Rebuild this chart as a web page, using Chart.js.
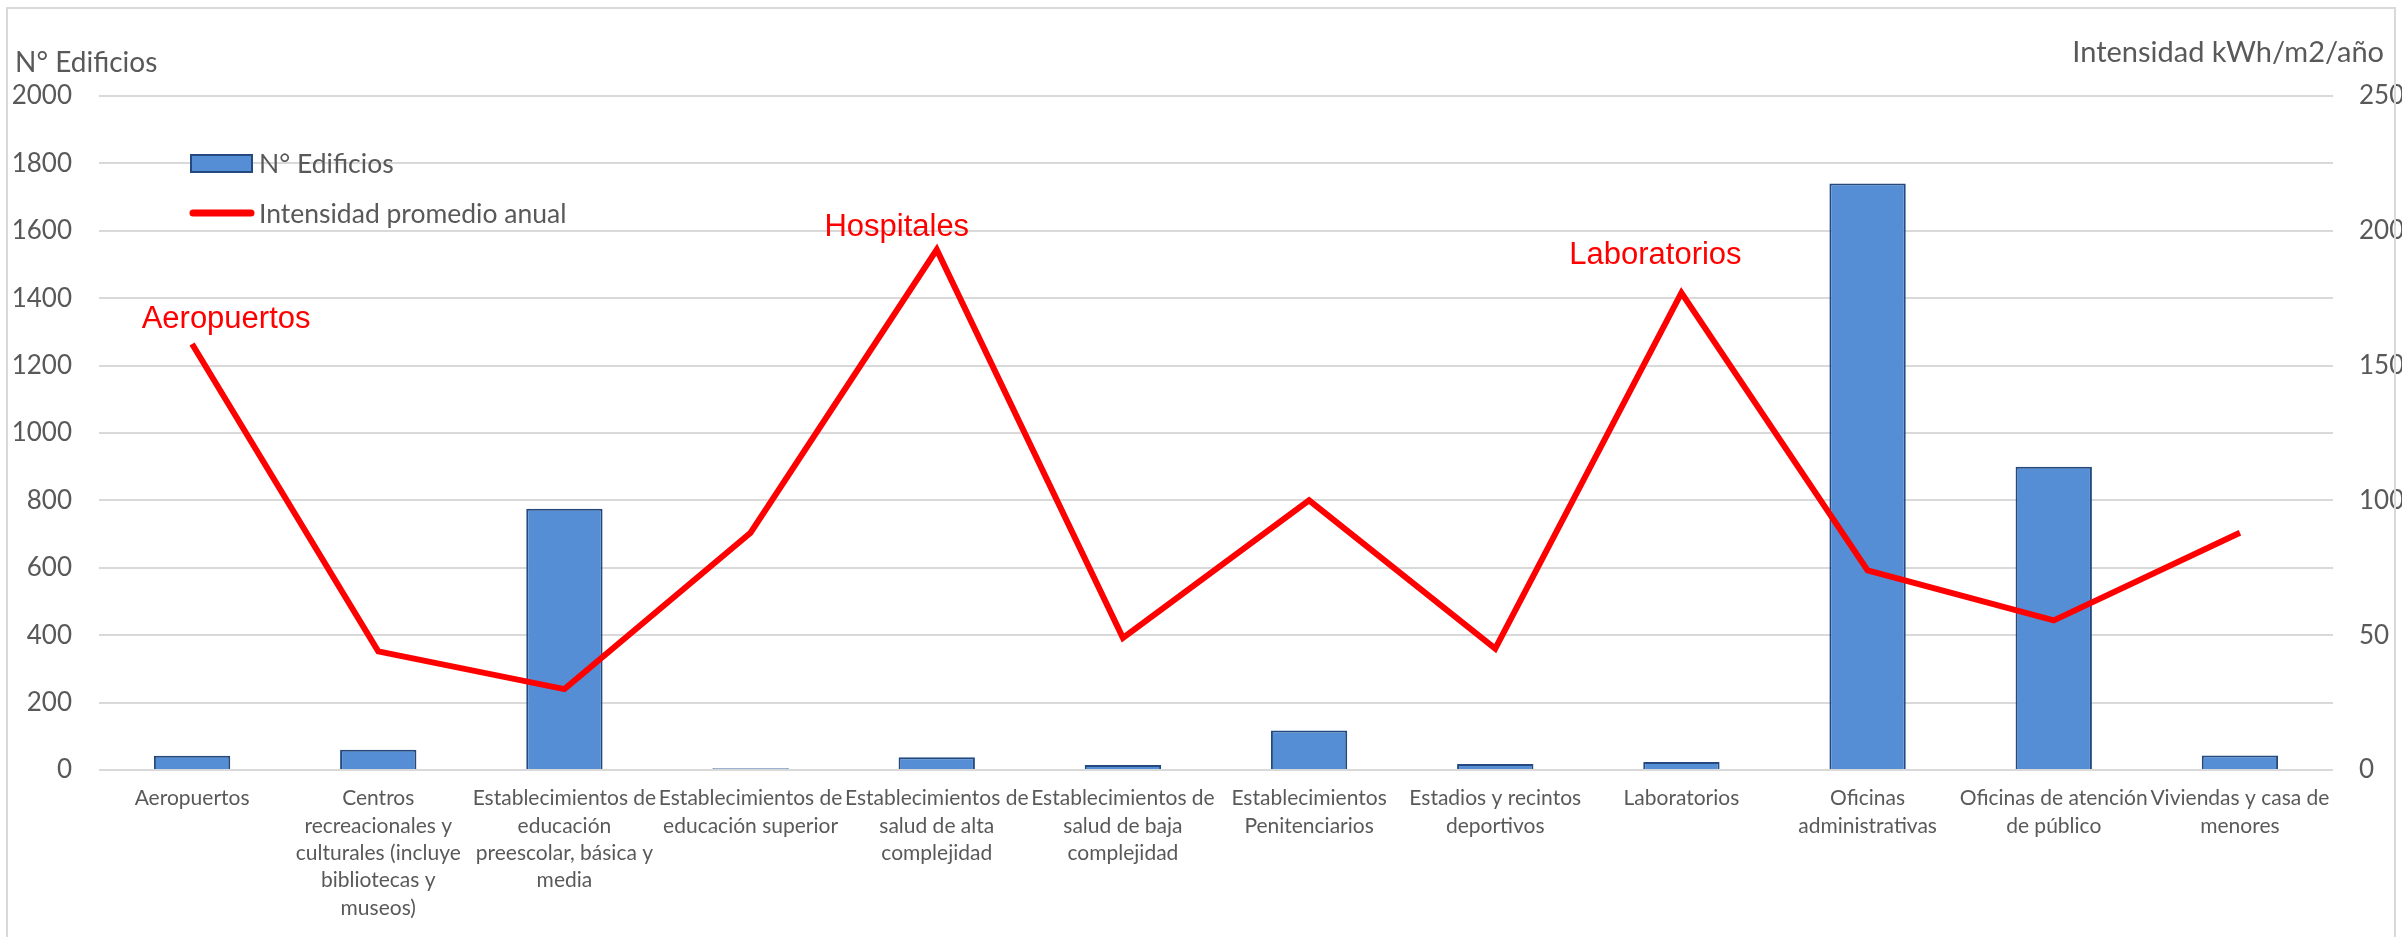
<!DOCTYPE html>
<html lang="es">
<head>
<meta charset="utf-8">
<title>N° Edificios e intensidad promedio anual por tipo de edificio</title>
<script src="https://cdn.jsdelivr.net/npm/chart.js@4.4.1/dist/chart.umd.min.js"></script>
<style>
  html, body { margin: 0; padding: 0; background: #ffffff; }
  canvas { display: block; }
</style>
</head>
<body>
<canvas id="chart" width="2402" height="937"></canvas>
<script>
// Building types (multi-line labels for the category axis)
const categoryLabels = [
  ['Aeropuertos'],
  ['Centros', 'recreacionales y', 'culturales (incluye', 'bibliotecas y', 'museos)'],
  ['Establecimientos de', 'educación', 'preescolar, básica y', 'media'],
  ['Establecimientos de', 'educación superior'],
  ['Establecimientos de', 'salud de alta', 'complejidad'],
  ['Establecimientos de', 'salud de baja', 'complejidad'],
  ['Establecimientos', 'Penitenciarios'],
  ['Estadios y recintos', 'deportivos'],
  ['Laboratorios'],
  ['Oficinas', 'administrativas'],
  ['Oficinas de atención', 'de público'],
  ['Viviendas y casa de', 'menores']
];

// Number of buildings per type (left axis)
const buildingCounts = [42, 60, 775, 5, 38, 15, 117, 18, 24, 1740, 900, 43];

// Average annual energy intensity, kWh/m2/año (right axis)
const intensityValues = [158, 44, 30, 88, 193, 49, 100, 45, 177, 74, 55.5, 88];

// Axis ranges and tick steps
const countAxisMax = 2000;
const countAxisStep = 200;
const intensityAxisMax = 250;
const intensityAxisStep = 50;

// Axis titles and series names
const countAxisTitle = 'N° Edificios';
const intensityAxisTitle = 'Intensidad kWh/m2/año';
const countSeriesName = 'N° Edificios';
const intensitySeriesName = 'Intensidad promedio anual';

// Highlighted points on the intensity line
const highlightNames = ['Aeropuertos', 'Hospitales', 'Laboratorios'];
const highlightIndexes = [0, 4, 8];

const TEXT_COLOR = '#595959';
const GRID_COLOR = '#d9d9d9';
const BAR_FILL = '#558ed5';
const BAR_EDGE = '#24497f';
const LINE_COLOR = '#ff0000';
const UI_FONT = 'Lato, "Liberation Sans", sans-serif';

// Frame, axis titles, legend and point callouts
const decorations = {
  id: 'decorations',
  afterDatasetsDraw(chart) {
    const ctx = chart.ctx;
    ctx.save();

    // outer frame
    ctx.strokeStyle = GRID_COLOR;
    ctx.lineWidth = 2;
    ctx.strokeRect(7, 8, 2388, 940);

    // axis titles
    ctx.fillStyle = TEXT_COLOR;
    ctx.textBaseline = 'alphabetic';
    ctx.font = '28px ' + UI_FONT;
    ctx.textAlign = 'left';
    ctx.fillText(countAxisTitle, 15, 72);
    ctx.font = '29px ' + UI_FONT;
    ctx.textAlign = 'right';
    ctx.fillText(intensityAxisTitle, 2384, 62);

    // legend
    const barDs = chart.data.datasets[0];
    const lineDs = chart.data.datasets[1];
    ctx.fillStyle = barDs.backgroundColor;
    ctx.fillRect(191, 155, 61, 17);
    ctx.strokeStyle = barDs.borderColor;
    ctx.lineWidth = 2;
    ctx.strokeRect(191, 155, 61, 17);

    ctx.strokeStyle = lineDs.borderColor;
    ctx.lineWidth = 7;
    ctx.lineCap = 'round';
    ctx.beginPath();
    ctx.moveTo(193, 213);
    ctx.lineTo(251, 213);
    ctx.stroke();

    ctx.fillStyle = TEXT_COLOR;
    ctx.font = '26.5px ' + UI_FONT;
    ctx.textAlign = 'left';
    ctx.textBaseline = 'middle';
    ctx.fillText(barDs.label, 259, 164);
    ctx.fillText(lineDs.label, 259, 214);

    // callouts next to highlighted intensity points
    const offsets = [[34, -16], [-40, -14], [-26, -29]];
    const meta = chart.getDatasetMeta(1);
    ctx.fillStyle = LINE_COLOR;
    ctx.font = '31px "Liberation Sans", Arial, sans-serif';
    ctx.textAlign = 'center';
    ctx.textBaseline = 'alphabetic';
    highlightIndexes.forEach((idx, i) => {
      const pt = meta.data[idx];
      ctx.fillText(highlightNames[i], pt.x + offsets[i][0], pt.y + offsets[i][1]);
    });

    ctx.restore();
  }
};

const plainNumber = (v) => String(v);

new Chart(document.getElementById('chart'), {
  data: {
    labels: categoryLabels,
    datasets: [
      {
        type: 'bar',
        label: countSeriesName,
        data: buildingCounts,
        yAxisID: 'y',
        backgroundColor: BAR_FILL,
        borderColor: BAR_EDGE,
        borderWidth: 2,
        barPercentage: 0.41,
        categoryPercentage: 1.0,
        order: 1
      },
      {
        type: 'line',
        label: intensitySeriesName,
        data: intensityValues,
        yAxisID: 'y1',
        borderColor: LINE_COLOR,
        backgroundColor: LINE_COLOR,
        borderWidth: 6,
        borderJoinStyle: 'miter',
        tension: 0,
        pointRadius: 0,
        pointHoverRadius: 0,
        fill: false,
        order: 0
      }
    ]
  },
  options: {
    responsive: false,
    devicePixelRatio: 1,
    animation: false,
    layout: { padding: { top: 96, left: 0, right: 0, bottom: 0 } },
    plugins: {
      legend: { display: false },
      tooltip: { enabled: false },
      title: { display: false }
    },
    scales: {
      x: {
        offset: true,
        grid: { display: false, drawTicks: false },
        border: { display: false },
        ticks: {
          autoSkip: false,
          maxRotation: 0,
          minRotation: 0,
          padding: 15,
          color: TEXT_COLOR,
          font: { family: UI_FONT, size: 21, lineHeight: 1.3 }
        },
        afterFit(scale) { scale.height = 167; }
      },
      y: {
        position: 'left',
        min: 0,
        max: countAxisMax,
        grid: { color: GRID_COLOR, lineWidth: 2, drawTicks: false },
        border: { display: false },
        ticks: {
          stepSize: countAxisStep,
          padding: 27,
          color: TEXT_COLOR,
          font: { family: UI_FONT, size: 26 },
          callback: plainNumber
        },
        afterFit(scale) { scale.width = 99; }
      },
      y1: {
        position: 'right',
        min: 0,
        max: intensityAxisMax,
        grid: { display: false, drawTicks: false },
        border: { display: false },
        ticks: {
          stepSize: intensityAxisStep,
          padding: 26,
          color: TEXT_COLOR,
          font: { family: UI_FONT, size: 26 },
          callback: plainNumber
        },
        afterFit(scale) { scale.width = 69; }
      }
    }
  },
  plugins: [decorations]
});
</script>
</body>
</html>
